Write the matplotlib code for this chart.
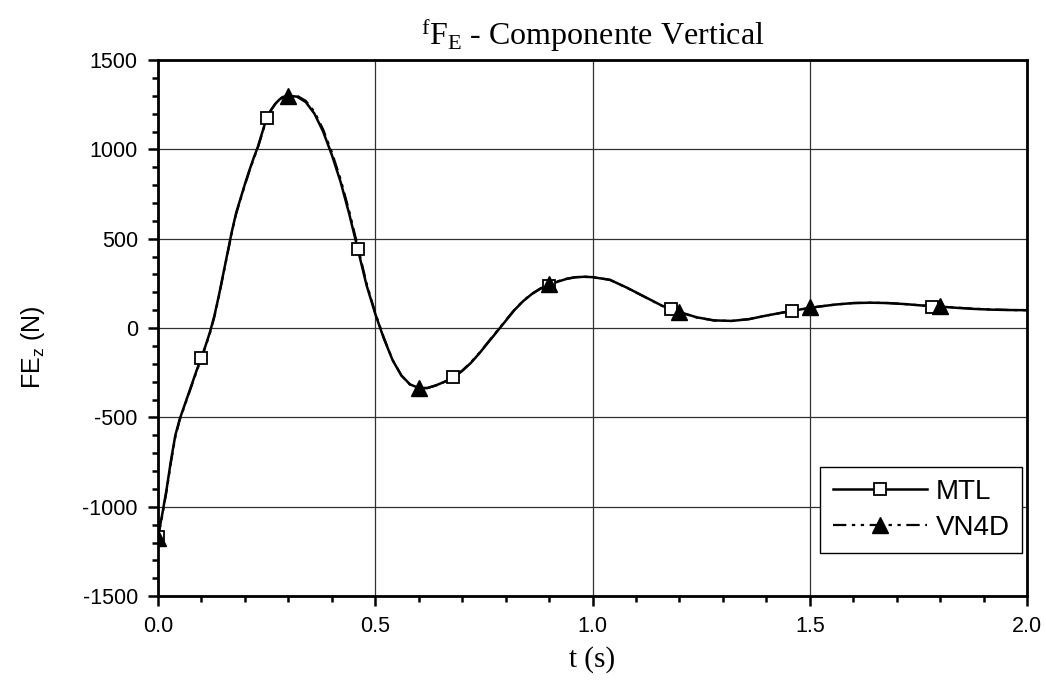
import matplotlib
matplotlib.use("Agg")
import matplotlib.pyplot as plt
from matplotlib.lines import Line2D
from matplotlib.ticker import MultipleLocator

# ---- data ----
t_mtl = [0.00, 0.01, 0.02, 0.03, 0.04, 0.05, 0.06, 0.07, 0.08, 0.09, 0.10, 0.11, 0.12, 0.13,
         0.14, 0.15, 0.16, 0.17, 0.18, 0.19, 0.20, 0.21, 0.22, 0.23, 0.24, 0.25, 0.26, 0.27,
         0.28, 0.29, 0.30, 0.32, 0.34, 0.36, 0.38, 0.40, 0.42, 0.44, 0.46, 0.48, 0.50, 0.52,
         0.54, 0.56, 0.58, 0.60, 0.62, 0.64, 0.66, 0.68, 0.70, 0.72, 0.74, 0.76, 0.78, 0.80,
         0.82, 0.84, 0.86, 0.88, 0.90, 0.92, 0.94, 0.96, 0.98, 1.00, 1.04, 1.08, 1.12, 1.16,
         1.20, 1.24, 1.28, 1.32, 1.36, 1.40, 1.44, 1.48, 1.52, 1.56, 1.60, 1.64, 1.68, 1.72,
         1.76, 1.80, 1.84, 1.88, 1.92, 1.96, 2.00]
fe_mtl = [-1170, -1040, -900, -740, -600, -510, -440, -370, -300, -230, -165, -95, -20, 70,
          180, 300, 420, 540, 645, 725, 805, 880, 950, 1015, 1095, 1175, 1220, 1255,
          1280, 1295, 1300, 1295, 1265, 1200, 1100, 970, 820, 640, 440, 240, 80, -60,
          -180, -265, -315, -335, -335, -320, -300, -275, -240, -195, -140, -80, -20, 40,
          100, 150, 190, 220, 240, 260, 275, 284, 287, 285, 270, 225, 175, 125,
          90, 60, 43, 40, 50, 70, 88, 105, 120, 132, 140, 142, 140, 134,
          126, 120, 113, 107, 103, 101, 100]

t_vn4d = t_mtl
fe_vn4d = [-1175, -1050, -910, -750, -610, -515, -445, -375, -305, -235, -170, -100, -25, 65,
           175, 295, 415, 535, 640, 720, 800, 875, 945, 1010, 1090, 1170, 1218, 1255,
           1282, 1298, 1303, 1300, 1272, 1210, 1112, 985, 835, 655, 455, 250, 85, -55,
           -178, -265, -317, -337, -336, -321, -300, -274, -238, -192, -137, -77, -17, 43,
           102, 152, 192, 222, 243, 262, 276, 285, 288, 285, 270, 224, 174, 124,
           89, 59, 42, 40, 50, 70, 88, 105, 120, 132, 140, 142, 140, 134,
           126, 121, 114, 108, 104, 101, 100]

mk_t_mtl = [0.00, 0.10, 0.25, 0.46, 0.68, 0.90, 1.18, 1.46, 1.78]
mk_fe_mtl = [-1170, -165, 1175, 440, -275, 235, 105, 95, 120]
mk_t_vn4d = [0.00, 0.30, 0.60, 0.90, 1.20, 1.50, 1.80]
mk_fe_vn4d = [-1175, 1300, -335, 245, 90, 118, 125]

series_names = ["MTL", "VN4D"]

DASHDOT = (0, (6, 2.5, 1.5, 2.5, 1.5, 2.5))

# ---- figure ----
fig = plt.figure(figsize=(10.46, 6.86), dpi=100)
ax = fig.add_axes([0.151, 0.131, 0.831, 0.7815])

ax.plot(t_vn4d, fe_vn4d, color="black", lw=1.6, ls=DASHDOT, zorder=3)
ax.plot(t_mtl, fe_mtl, color="black", lw=1.8, ls="-", zorder=4)
ax.plot(mk_t_mtl, mk_fe_mtl, ls="none", marker="s", ms=9, mfc="white", mec="black",
        mew=1.3, zorder=5)
ax.plot(mk_t_vn4d, mk_fe_vn4d, ls="none", marker="^", ms=11, mfc="black", mec="black",
        zorder=6)

ax.set_xlim(0, 2.0)
ax.set_ylim(-1500, 1500)
ax.xaxis.set_major_locator(MultipleLocator(0.5))
ax.xaxis.set_minor_locator(MultipleLocator(0.1))
ax.yaxis.set_major_locator(MultipleLocator(500))
ax.yaxis.set_minor_locator(MultipleLocator(100))
ax.xaxis.set_major_formatter(plt.FuncFormatter(lambda v, p: f"{v:.1f}"))
ax.yaxis.set_major_formatter(plt.FuncFormatter(lambda v, p: f"{int(round(v))}"))

ax.tick_params(which="major", direction="out", length=7, width=1.8,
               labelsize=15.5, top=False, right=False, pad=7.5)
ax.tick_params(which="minor", direction="out", length=4, width=1.8, top=False, right=False)
for lab in ax.get_xticklabels() + ax.get_yticklabels():
    lab.set_fontfamily("Liberation Sans")

for s in ax.spines.values():
    s.set_linewidth(2)

ax.grid(True, which="major", color="#303030", lw=0.9)
ax.set_axisbelow(True)

ax.set_xlabel("t (s)", family="Liberation Serif", fontsize=21, labelpad=6)
ax.set_ylabel(r"FE$\mathregular{_z}$ (N)", family="Liberation Sans", fontsize=18)
ax.yaxis.set_label_coords(-0.128, 0.465)
ax.set_title(r"$\mathregular{^f}$F$\mathregular{_E}$ - Componente Vertical",
             family="Liberation Serif", fontsize=23, pad=11)

handles = [
    Line2D([], [], color="black", lw=1.8, marker="s", ms=9, mfc="white", mec="black", mew=1.3),
    Line2D([], [], color="black", lw=1.6, ls=DASHDOT, marker="^", ms=11,
           mfc="black", mec="black"),
]
leg = ax.legend(handles, series_names, loc="lower right", bbox_to_anchor=(0.9942, 0.080),
                borderaxespad=0,
                prop={"family": "Liberation Sans", "size": 20}, frameon=True, fancybox=False,
                edgecolor="black", framealpha=1, handlelength=3.4, borderpad=0.45,
                labelspacing=0.35, handletextpad=0.3)
leg.get_frame().set_linewidth(1.0)

fig.savefig("out.png", dpi=100)
